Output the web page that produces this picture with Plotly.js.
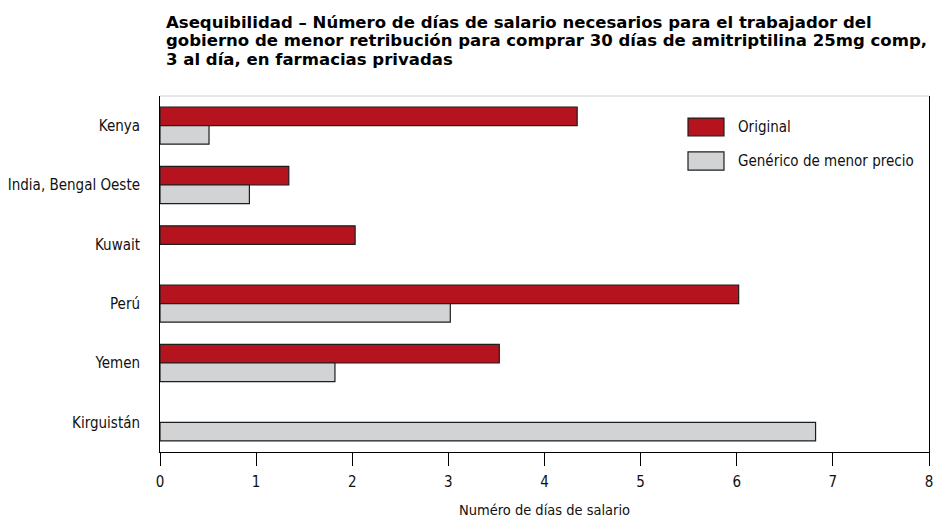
<!DOCTYPE html>
<html>
<head>
<meta charset="utf-8">
<script src="https://cdn.plot.ly/plotly-3.0.1.min.js"></script>
<style>html,body{margin:0;padding:0;background:#fff;}#chart{width:935px;height:520px;}</style>
</head>
<body>
<div id="chart"></div>
<script>
const categories = ["Kenya", "India, Bengal Oeste", "Kuwait", "Perú", "Yemen", "Kirguistán"];
const originalValues = [4.34, 1.34, 2.03, 6.02, 3.53, null];
const genericValues = [0.51, 0.93, null, 3.02, 1.82, 6.82];
const seriesNames = ["Original", "Genérico de menor precio"];
const xTicks = [0, 1, 2, 3, 4, 5, 6, 7, 8];
const titleLines = [
  "Asequibilidad – Número de días de salario necesarios para el trabajador del",
  "gobierno de menor retribución para comprar 30 días de amitriptilina 25mg comp,",
  "3 al día, en farmacias privadas"
];

const FONT = '"DejaVu Sans Condensed", "Liberation Sans", sans-serif';
const TFONT = '"DejaVu Sans", "Liberation Sans", sans-serif';
const RED = '#B5141E';
const GREY = '#D2D3D5';
const EDGE = '#1e1e1e';

const traces = [
  {type: 'bar', orientation: 'h', name: seriesNames[0], y: categories, x: originalValues,
   marker: {color: RED, line: {color: EDGE, width: 1.2}}, hoverinfo: 'x+y'},
  {type: 'bar', orientation: 'h', name: seriesNames[1], y: categories, x: genericValues,
   marker: {color: GREY, line: {color: EDGE, width: 1.2}}, hoverinfo: 'x+y'}
];

const W = 935, H = 520;
const titleAnnots = titleLines.map((t, i) => ({
  xref: 'paper', yref: 'paper',
  x: (164 - 160) / 769, y: (H - 68 - (22 + 19 * i)) / 356,
  xanchor: 'left', yanchor: 'middle', showarrow: false, align: 'left',
  text: t,
  font: {family: TFONT, size: 16.55, color: '#000', weight: 'bold'}
}));

const layout = {
  width: W, height: H,
  margin: {l: 160, r: 6, t: 96, b: 68},
  paper_bgcolor: '#fff', plot_bgcolor: '#fff',
  font: {family: FONT, size: 15, color: '#111'},
  showlegend: false,
  barmode: 'group', bargap: 0.375, bargroupgap: 0,
  xaxis: {
    range: [0, 8], tickvals: xTicks, ticktext: xTicks.map(String),
    ticks: 'outside', ticklen: 13, tickwidth: 1, tickcolor: '#000',
    showline: true, linecolor: '#000', linewidth: 1,
    showgrid: false, zeroline: false, fixedrange: true,
    ticklabelstandoff: 3,
    tickfont: {family: FONT, size: 15, color: '#111'},
    title: {text: 'Numéro de días de salario', font: {family: FONT, size: 14.5, color: '#111'}, standoff: 14}
  },
  yaxis: {
    type: 'category', categoryorder: 'array', categoryarray: categories,
    autorange: 'reversed',
    showline: true, linecolor: '#000', linewidth: 1, mirror: true,
    ticks: '', showgrid: false, zeroline: false, fixedrange: true,
    ticklabelstandoff: 16,
    tickfont: {family: FONT, size: 15, color: '#111'}
  },
  shapes: [
    {type: 'line', xref: 'paper', yref: 'paper', x0: 0, x1: 1, y0: 1, y1: 1, line: {color: '#d0d0d0', width: 1}},
    {type: 'rect', xref: 'paper', yref: 'paper', x0: 0.6866, x1: 0.7334, y0: 0.888, y1: 0.938, fillcolor: RED, line: {color: EDGE, width: 1.2}},
    {type: 'rect', xref: 'paper', yref: 'paper', x0: 0.6866, x1: 0.7334, y0: 0.792, y1: 0.843, fillcolor: GREY, line: {color: EDGE, width: 1.2}}
  ],
  annotations: titleAnnots.concat([
    {xref: 'paper', yref: 'paper', x: 0.749, y: 0.913, xanchor: 'left', yanchor: 'middle', showarrow: false, text: seriesNames[0], font: {family: FONT, size: 15, color: '#111'}},
    {xref: 'paper', yref: 'paper', x: 0.749, y: 0.8174, xanchor: 'left', yanchor: 'middle', showarrow: false, text: seriesNames[1], font: {family: FONT, size: 15, color: '#111'}}
  ])
};

Plotly.newPlot('chart', traces, layout, {displayModeBar: false});
</script>
</body>
</html>
